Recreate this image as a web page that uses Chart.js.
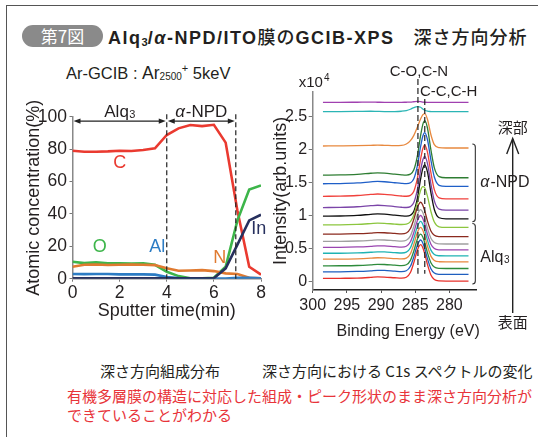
<!DOCTYPE html>
<html>
<head>
<meta charset="utf-8">
<script src="https://cdn.jsdelivr.net/npm/chart.js@4.4.1/dist/chart.umd.min.js"></script>
<style>
  html, body { margin: 0; padding: 0; background: #fff; }
  body { width: 538px; height: 437px; position: relative; overflow: hidden;
         font-family: "Liberation Sans", Arial, "Noto Sans CJK JP", sans-serif; color: #231f20; }
  .frame { position: absolute; left: 6px; top: 5px; width: 560px; height: 460px;
           border-left: 1.5px solid #555; border-top: 1.5px solid #555; }
  .pill { position: absolute; left: 22px; top: 25px; width: 81px; height: 22px; border-radius: 11px;
          background: #8a8a8a; color: #fff; font: 17px "Noto Sans CJK JP", sans-serif;
          line-height: 22px; text-align: center; }
  .title { position: absolute; left: 108px; top: 24px; font: bold 18px "Liberation Sans", Arial, sans-serif;
           white-space: nowrap; line-height: 24px; letter-spacing: 1.5px; }
  .title .jp { font-family: "Noto Sans CJK JP", sans-serif; font-weight: 500; letter-spacing: 1px; }
  .title sub { font-size: 62%; vertical-align: -2px; line-height: 0; letter-spacing: 0; }
  .cond { position: absolute; left: 66px; top: 63px; font-size: 16.5px; line-height: 20px; white-space: nowrap; }
  .cond .big { font-size: 17.5px; }
  .cond sub { font-size: 10px; vertical-align: -1px; line-height: 0; }
  .cond sup { font-size: 11px; vertical-align: 7px; line-height: 0; }
  .cap { position: absolute; top: 360px; font: 15px "Noto Sans CJK JP", sans-serif; white-space: nowrap; color: #231f20; }
  .note { position: absolute; left: 67px; top: 386px; font: 15px/19px "Noto Sans CJK JP", sans-serif; color: #e8343a; white-space: nowrap; }
  canvas { position: absolute; }
</style>
</head>
<body>
<div class="frame"></div>
<div class="pill">第7図</div>
<div class="title">Alq<sub>3</sub>/<i>α</i>-NPD/ITO<span class="jp">膜の</span>GCIB-XPS<span class="jp">　深さ方向分析</span></div>
<div class="cond">Ar-GCIB : <span class="big">Ar</span><sub>2500</sub><sup>+</sup> 5keV</div>

<canvas id="depth" width="275" height="270" style="left:0px;top:60px"></canvas>
<canvas id="c1s" width="268" height="285" style="left:270px;top:60px"></canvas>

<div class="cap" style="left:100px">深さ方向組成分布</div>
<div class="cap" style="left:262px">深さ方向における C1s スペクトルの変化</div>
<div class="note">有機多層膜の構造に対応した組成・ピーク形状のまま深さ方向分析が<br>できていることがわかる</div>

<script>
// ---- Depth profile: atomic concentration (%) vs sputter time (min) ----
const sputterTime = [0, 0.5, 1, 1.5, 2, 2.5, 3, 3.5, 4, 4.5, 5, 5.5, 6, 6.5, 7, 7.5, 8];
const carbon   = [79.0, 78.4, 78.4, 78.6, 79.0, 78.8, 79.4, 80.5, 88.7, 92.8, 94.9, 94.2, 95.0, 84.0, 42.0, 7.4, 2.5];
const oxygen   = [10.5, 9.6, 10.1, 9.5, 9.5, 9.4, 9.5, 8.6, 4.3, 1.6, 0.3, 0.2, 0.6, 7.4, 36.0, 55.0, 57.6];
const nitrogen = [7.4, 8.6, 8.8, 8.5, 8.6, 8.7, 8.6, 8.4, 6.4, 4.9, 5.1, 5.3, 4.7, 3.3, 2.9, 0.6, 0.2];
const aluminum = [2.9, 2.8, 2.9, 2.9, 2.7, 2.7, 2.7, 2.5, 1.0, 0.4, 0.1, 0.1, 0.1, 0.1, 0.6, 0.5, 0.2];
const indium   = [0.3, 0.3, 0.3, 0.3, 0.3, 0.3, 0.3, 0.3, 0.3, 0.3, 0.3, 0.3, 0.3, 6.4, 21.0, 36.0, 39.5];
const depthTicks = [0, 2, 4, 6, 8];
const concTicks = [0, 20, 40, 60, 80, 100];
const layerBounds = [4, 6.93];   // Alq3 / α-NPD and α-NPD / ITO interfaces (min)

// ---- C1s spectra, one per sputter step (intensity ×10^4) ----
const bindingEnergy = [298.5, 296, 293.5, 291.5, 290.5, 289.5, 288, 287, 286.3, 285.7, 285.2, 284.7, 284.2, 283.9, 283.6, 283.2, 282.7, 282.2, 281.5, 280.5, 279, 277.2];
const c1s_00 = [0.05, 0.052, 0.055, 0.066, 0.073, 0.07, 0.06, 0.054, 0.067, 0.138, 0.288, 0.473, 0.56, 0.518, 0.42, 0.259, 0.102, 0.033, 0.012, 0.01, 0.01, 0.01];
const c1s_05 = [0.15, 0.15, 0.155, 0.165, 0.172, 0.17, 0.16, 0.154, 0.166, 0.233, 0.374, 0.548, 0.63, 0.59, 0.498, 0.345, 0.197, 0.132, 0.112, 0.11, 0.11, 0.11];
const c1s_10 = [0.24, 0.241, 0.245, 0.255, 0.262, 0.26, 0.25, 0.244, 0.256, 0.323, 0.464, 0.638, 0.72, 0.68, 0.588, 0.435, 0.287, 0.222, 0.202, 0.2, 0.2, 0.2];
const c1s_15 = [0.34, 0.34, 0.345, 0.355, 0.362, 0.36, 0.35, 0.344, 0.356, 0.423, 0.564, 0.738, 0.82, 0.78, 0.688, 0.535, 0.387, 0.322, 0.302, 0.3, 0.3, 0.3];
const c1s_20 = [0.43, 0.43, 0.435, 0.445, 0.452, 0.45, 0.44, 0.434, 0.446, 0.513, 0.654, 0.828, 0.91, 0.87, 0.778, 0.625, 0.477, 0.412, 0.392, 0.39, 0.39, 0.39];
const c1s_25 = [0.52, 0.52, 0.525, 0.535, 0.542, 0.54, 0.53, 0.524, 0.536, 0.603, 0.744, 0.918, 1.0, 0.96, 0.868, 0.715, 0.567, 0.502, 0.482, 0.48, 0.48, 0.48];
const c1s_30 = [0.61, 0.61, 0.615, 0.625, 0.632, 0.63, 0.62, 0.614, 0.626, 0.693, 0.834, 1.008, 1.09, 1.05, 0.958, 0.805, 0.657, 0.592, 0.572, 0.57, 0.57, 0.57];
const c1s_35 = [0.72, 0.72, 0.725, 0.735, 0.742, 0.74, 0.73, 0.724, 0.736, 0.803, 0.944, 1.118, 1.2, 1.16, 1.068, 0.915, 0.767, 0.702, 0.682, 0.68, 0.68, 0.68];
const c1s_40 = [0.86, 0.86, 0.866, 0.878, 0.885, 0.882, 0.87, 0.864, 0.869, 0.908, 1.009, 1.189, 1.382, 1.435, 1.419, 1.288, 1.06, 0.901, 0.829, 0.82, 0.82, 0.82];
const c1s_45 = [0.99, 0.993, 1.002, 1.018, 1.025, 1.02, 1.005, 0.995, 0.991, 1.004, 1.065, 1.252, 1.557, 1.704, 1.763, 1.654, 1.346, 1.091, 0.966, 0.95, 0.95, 0.95];
const c1s_50 = [1.12, 1.123, 1.132, 1.148, 1.155, 1.15, 1.135, 1.125, 1.121, 1.134, 1.195, 1.382, 1.687, 1.834, 1.893, 1.784, 1.476, 1.221, 1.096, 1.08, 1.08, 1.08];
const c1s_55 = [1.29, 1.293, 1.302, 1.318, 1.325, 1.32, 1.305, 1.295, 1.291, 1.304, 1.365, 1.552, 1.857, 2.004, 2.063, 1.954, 1.646, 1.391, 1.266, 1.25, 1.25, 1.25];
const c1s_60 = [1.48, 1.483, 1.492, 1.508, 1.515, 1.51, 1.495, 1.485, 1.481, 1.494, 1.555, 1.742, 2.047, 2.194, 2.253, 2.144, 1.836, 1.581, 1.456, 1.44, 1.44, 1.44];
const c1s_65 = [1.61, 1.613, 1.622, 1.638, 1.645, 1.64, 1.625, 1.615, 1.611, 1.625, 1.69, 1.889, 2.213, 2.37, 2.433, 2.318, 1.991, 1.72, 1.587, 1.57, 1.57, 1.57];
const c1s_70 = [2.05, 2.052, 2.055, 2.06, 2.063, 2.06, 2.055, 2.058, 2.08, 2.13, 2.21, 2.33, 2.46, 2.52, 2.54, 2.45, 2.22, 2.07, 2.025, 2.02, 2.02, 2.02];
const c1s_75 = [2.57, 2.57, 2.572, 2.575, 2.572, 2.57, 2.57, 2.575, 2.585, 2.605, 2.63, 2.645, 2.635, 2.61, 2.59, 2.575, 2.57, 2.568, 2.568, 2.57, 2.568, 2.568];
const c1s_80 = [2.71, 2.71, 2.711, 2.712, 2.711, 2.71, 2.71, 2.71, 2.711, 2.712, 2.718, 2.724, 2.72, 2.714, 2.711, 2.71, 2.71, 2.71, 2.71, 2.71, 2.71, 2.71];
const energyTicks = [300, 295, 290, 285, 280];
const intensityTicks = [0, 0.5, 1, 1.5, 2, 2.5];
const peakPositions = [284.6, 283.6];  // C-O,C-N and C-C,C-H

const INK = '#231f20';
const SANS = '"Liberation Sans", Arial, sans-serif';
const JP = '"Noto Sans CJK JP", sans-serif';

// text with a lowered small suffix, e.g. Alq + 3
function subText(ctx, base, sub, x, y, size, align) {
  ctx.font = size + 'px ' + SANS;
  const w1 = ctx.measureText(base).width;
  ctx.font = Math.round(size * 0.62) + 'px ' + SANS;
  const w2 = ctx.measureText(sub).width;
  let x0 = x;
  if (align === 'center') x0 = x - (w1 + w2) / 2;
  ctx.textAlign = 'left';
  ctx.textBaseline = 'alphabetic';
  ctx.font = size + 'px ' + SANS;
  ctx.fillText(base, x0, y);
  ctx.font = Math.round(size * 0.62) + 'px ' + SANS;
  ctx.fillText(sub, x0 + w1 + 0.5, y + 1);
}

// "α-NPD" with an italic alpha
function npdText(ctx, x, y, size, align) {
  ctx.font = 'italic ' + size + 'px ' + SANS;
  const wa = ctx.measureText('α').width;
  ctx.font = size + 'px ' + SANS;
  const wn = ctx.measureText('-NPD').width;
  const x0 = align === 'center' ? x - (wa + wn + 1) / 2 : x;
  ctx.textAlign = 'left';
  ctx.textBaseline = 'alphabetic';
  ctx.font = 'italic ' + size + 'px ' + SANS;
  ctx.fillText('α', x0, y);
  ctx.font = size + 'px ' + SANS;
  ctx.fillText('-NPD', x0 + wa + 1, y);
}

function arrowHead(ctx, x, y, dir) {
  ctx.beginPath();
  ctx.moveTo(x, y);
  ctx.lineTo(x - dir * 7, y - 2.6);
  ctx.lineTo(x - dir * 7, y + 2.6);
  ctx.closePath();
  ctx.fill();
}

// ---------------- left chart ----------------
const elementLabels = [
  { text: 'C',  t: 2.0,  v: 71.5, color: '#ea3a30' },
  { text: 'O',  t: 1.16, v: 19.5, color: '#3db54a' },
  { text: 'Al', t: 3.6,  v: 19.5, color: '#2c7cc4' },
  { text: 'N',  t: 6.25, v: 13.0, color: '#e07a30' },
  { text: 'In', t: 7.9,  v: 30.5, color: '#27305e' }
];

const depthOverlay = {
  id: 'depthOverlay',
  afterDatasetsDraw(chart) {
    const { ctx, scales: { x, y } } = chart;
    ctx.save();
    // interface markers
    ctx.strokeStyle = '#222';
    ctx.lineWidth = 1.2;
    ctx.setLineDash([5, 3]);
    layerBounds.forEach(t => {
      const px = x.getPixelForValue(t);
      ctx.beginPath();
      ctx.moveTo(px, y.getPixelForValue(101.5));
      ctx.lineTo(px, y.getPixelForValue(0));
      ctx.stroke();
    });
    ctx.setLineDash([]);
    // layer spans
    const ay = y.getPixelForValue(97.3);
    const spans = [[0, layerBounds[0]], [layerBounds[0], layerBounds[1]]];
    ctx.fillStyle = '#222';
    spans.forEach(([a, b]) => {
      const x1 = x.getPixelForValue(a) + 1, x2 = x.getPixelForValue(b) - 1;
      ctx.beginPath();
      ctx.moveTo(x1 + 3, ay);
      ctx.lineTo(x2 - 3, ay);
      ctx.stroke();
      arrowHead(ctx, x1, ay, -1);
      arrowHead(ctx, x2, ay, 1);
    });
    ctx.fillStyle = INK;
    const ly = ay - 4;
    subText(ctx, 'Alq', '3', x.getPixelForValue(layerBounds[0] / 2), ly, 17, 'center');
    npdText(ctx, x.getPixelForValue((layerBounds[0] + layerBounds[1]) / 2), ly, 17, 'center');
    // element names
    ctx.textAlign = 'center';
    ctx.textBaseline = 'middle';
    ctx.font = '18px ' + SANS;
    elementLabels.forEach(l => {
      ctx.fillStyle = l.color;
      ctx.fillText(l.text, x.getPixelForValue(l.t), y.getPixelForValue(l.v));
    });
    ctx.restore();
  }
};

function series(label, data, color) {
  return { label, data: sputterTime.map((t, i) => ({ x: t, y: data[i] })), borderColor: color,
           borderWidth: 2.6, pointRadius: 0, tension: 0, fill: false };
}

new Chart(document.getElementById('depth'), {
  type: 'line',
  data: {
    datasets: [
      series('In', indium, '#27305e'),
      series('Al', aluminum, '#2c7cc4'),
      series('N', nitrogen, '#e07a30'),
      series('O', oxygen, '#3db54a'),
      series('C', carbon, '#ea3a30')
    ]
  },
  options: {
    responsive: false, animation: false, devicePixelRatio: 1,
    layout: { padding: { left: 23.2, right: 14, top: 56.7, bottom: 8.2 } },
    plugins: { legend: { display: false }, tooltip: { enabled: false } },
    scales: {
      x: {
        type: 'linear', min: 0, max: 8,
        afterBuildTicks: s => { s.ticks = depthTicks.map(v => ({ value: v })); },
        afterFit: s => { s.height = 43.1; },
        ticks: { color: INK, font: { family: SANS, size: 17.5 }, padding: 1, maxRotation: 0 },
        grid: { drawOnChartArea: false, drawTicks: true, tickLength: 3, color: '#777' },
        border: { color: '#888', width: 1.5 },
        title: { display: true, text: 'Sputter time(min)', color: INK, font: { family: SANS, size: 18 }, padding: 0 }
      },
      y: {
        min: 0, max: 100,
        afterBuildTicks: s => { s.ticks = concTicks.map(v => ({ value: v })); },
        afterFit: s => { s.width = 49.3; },
        ticks: { color: INK, font: { family: SANS, size: 17.5 }, padding: 2.5 },
        grid: { drawOnChartArea: false, drawTicks: true, tickLength: 3, color: '#777' },
        border: { color: '#888', width: 1.5 },
        title: { display: true, text: 'Atomic concentration(%)', color: INK, font: { family: SANS, size: 18 }, padding: 0 }
      }
    }
  },
  plugins: [depthOverlay]
});

// ---------------- right chart ----------------
const spectra = [
  { data: c1s_00, color: '#e8302a' },
  { data: c1s_05, color: '#1f5fbf' },
  { data: c1s_10, color: '#2e8b3c' },
  { data: c1s_15, color: '#e8873f' },
  { data: c1s_20, color: '#1fb3b3' },
  { data: c1s_25, color: '#9a45b0' },
  { data: c1s_30, color: '#a0a0a0' },
  { data: c1s_35, color: '#8b2a1e' },
  { data: c1s_40, color: '#8cc63f' },
  { data: c1s_45, color: '#111111' },
  { data: c1s_50, color: '#7b45a8' },
  { data: c1s_55, color: '#f0413c' },
  { data: c1s_60, color: '#1f5fc8' },
  { data: c1s_65, color: '#2e7d32' },
  { data: c1s_70, color: '#e8893f' },
  { data: c1s_75, color: '#2bb5b5' },
  { data: c1s_80, color: '#a040b0' }
];

const spectraOverlay = {
  id: 'spectraOverlay',
  afterDatasetsDraw(chart) {
    const { ctx, scales: { x, y }, chartArea } = chart;
    ctx.save();
    // peak position markers
    ctx.strokeStyle = '#222';
    ctx.lineWidth = 1.2;
    ctx.setLineDash([6, 3]);
    const p1 = x.getPixelForValue(peakPositions[0]);
    const p2 = x.getPixelForValue(peakPositions[1]);
    const yBottom = y.getPixelForValue(0.12);
    ctx.beginPath(); ctx.moveTo(p1, 19); ctx.lineTo(p1, yBottom); ctx.stroke();
    ctx.beginPath(); ctx.moveTo(p2, 39); ctx.lineTo(p2, yBottom); ctx.stroke();
    ctx.setLineDash([]);
    ctx.fillStyle = INK;
    ctx.font = '15px ' + SANS;
    ctx.textBaseline = 'middle';
    ctx.textAlign = 'center';
    ctx.fillText('C-O,C-N', p1 + 1, 11.5);
    ctx.textAlign = 'left';
    ctx.fillText('C-C,C-H', p1 + 2, 31.5);
    // axis multiplier
    ctx.font = '15px ' + SANS;
    ctx.fillText('x10', chartArea.left - 14, 23);
    const wx = ctx.measureText('x10').width;
    ctx.font = '10px ' + SANS;
    ctx.fillText('4', chartArea.left - 14 + wx + 1, 18);

    // axis title, set slightly right of the plot centre
    ctx.font = '16px ' + SANS;
    ctx.textAlign = 'center';
    ctx.fillText('Binding Energy (eV)', chartArea.left + 95.5, 271.5);

    // layer brackets on the right
    const bx = x.getPixelForValue(276.2);
    function bracket(topVal, botVal) {
      const t = y.getPixelForValue(topVal) - 4, b = y.getPixelForValue(botVal) + 3;
      ctx.strokeStyle = '#333';
      ctx.lineWidth = 1.1;
      ctx.beginPath();
      ctx.moveTo(bx - 3, t);
      ctx.quadraticCurveTo(bx, t, bx, t + 3);
      ctx.lineTo(bx, b - 3);
      ctx.quadraticCurveTo(bx, b, bx - 3, b);
      ctx.stroke();
      return (t + b) / 2;
    }
    const last = bindingEnergy.length - 1;
    const mNPD = bracket(c1s_70[last], c1s_45[last]);
    const mAlq = bracket(c1s_40[last], c1s_00[last]);
    ctx.fillStyle = INK;
    npdText(ctx, bx + 5, mNPD + 4, 16, 'left');
    subText(ctx, 'Alq', '3', bx + 5, mAlq + 8, 16, 'left');

    // depth direction arrow
    const ax = 242.7;
    ctx.strokeStyle = '#222';
    ctx.lineWidth = 1.4;
    ctx.beginPath(); ctx.moveTo(ax, 79); ctx.lineTo(ax, 253); ctx.stroke();
    ctx.beginPath(); ctx.moveTo(ax - 6, 94); ctx.lineTo(ax, 78.5); ctx.lineTo(ax + 6, 94); ctx.stroke();
    ctx.font = '15px ' + JP;
    ctx.textAlign = 'center';
    ctx.textBaseline = 'middle';
    ctx.fillText('深部', ax, 67);
    ctx.fillText('表面', ax, 262);
    ctx.restore();
  }
};

new Chart(document.getElementById('c1s'), {
  type: 'line',
  data: {
    datasets: spectra.map(s => ({
      data: bindingEnergy.map((e, i) => ({ x: e, y: s.data[i] })),
      borderColor: s.color, borderWidth: 1.3, pointRadius: 0,
      cubicInterpolationMode: 'monotone', fill: false
    }))
  },
  options: {
    responsive: false, animation: false, devicePixelRatio: 1,
    layout: { padding: { left: 0.2, right: 61.3, top: 31.7, bottom: 4.3 } },
    plugins: { legend: { display: false }, tooltip: { enabled: false } },
    scales: {
      x: {
        type: 'linear', reverse: true, min: 276, max: 300,
        afterBuildTicks: s => { s.ticks = energyTicks.map(v => ({ value: v })); },
        afterFit: s => { s.height = 50.7; },
        ticks: { color: INK, font: { family: SANS, size: 16 }, padding: 3.4, maxRotation: 0 },
        grid: { drawOnChartArea: false, drawTicks: true, tickLength: 3, color: '#555' },
        border: { color: '#222', width: 1.5 },
        title: { display: false }
      },
      y: {
        min: -0.125, max: 2.87,
        afterBuildTicks: s => { s.ticks = intensityTicks.map(v => ({ value: v })); },
        afterFit: s => { s.width = 42.5; },
        ticks: { color: INK, font: { family: SANS, size: 16 }, padding: 1.5, callback: v => String(v) },
        grid: { drawOnChartArea: false, drawTicks: true, tickLength: 4, color: '#777' },
        border: { color: '#888', width: 1.5 },
        title: { display: true, text: 'Intensity(arb.units)', color: INK, font: { family: SANS, size: 18 }, padding: 0 }
      }
    }
  },
  plugins: [spectraOverlay]
});
</script>
</body>
</html>
